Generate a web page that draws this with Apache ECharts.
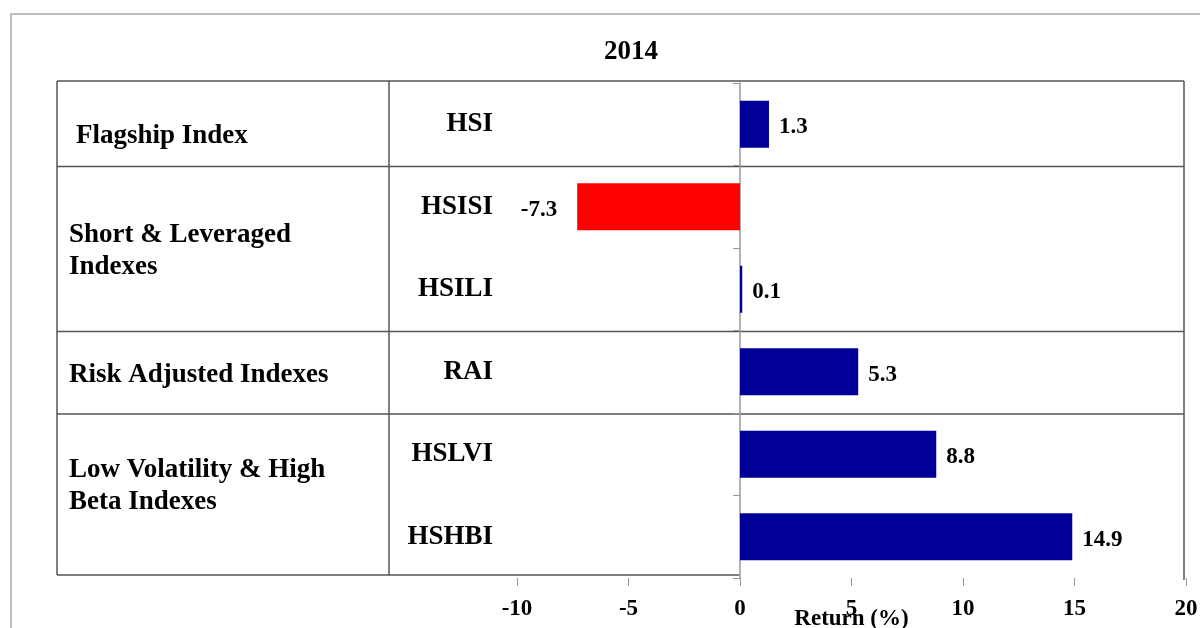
<!DOCTYPE html>
<html>
<head>
<meta charset="utf-8">
<script src="https://cdn.jsdelivr.net/npm/echarts@6/dist/echarts.min.js"></script>
<style>
  html, body { margin: 0; padding: 0; background: #fff; }
  #main { width: 1200px; height: 628px; }
</style>
</head>
<body>
<div id="main"></div>
<script>
// index names, one bar each (top to bottom)
var categories = ['HSI', 'HSISI', 'HSILI', 'RAI', 'HSLVI', 'HSHBI'];
// 2014 return (%)
var returns2014 = [1.3, -7.3, 0.1, 5.3, 8.8, 14.9];
// groups shown in the left column: first and last category index of each
var groupNames = ['Flagship Index', 'Short & Leveraged\nIndexes', 'Risk Adjusted Indexes', 'Low Volatility & High\nBeta Indexes'];
var groupFirst = [0, 1, 3, 4];
var groupLast = [0, 2, 3, 5];
// rows that get a dividing line above them
var dividerRows = [0, 1, 3, 4];

var xMin = -10, xMax = 20, xStep = 5;

var FONT = '"Liberation Serif", "Times New Roman", serif';
var chartDom = document.getElementById('main');
var myChart = echarts.init(chartDom);

var barData = returns2014.map(function (v) {
  var item = { value: v, itemStyle: { color: v < 0 ? '#ff0000' : '#000099' } };
  if (v < 0) {
    item.label = { position: 'left', distance: 20 };
  }
  return item;
});

var option = {
  backgroundColor: '#fff',
  animation: false,
  title: {
    text: '2014',
    left: 604,
    top: 39,
    padding: 0,
    textStyle: { fontFamily: FONT, fontWeight: 'bold', fontSize: 27, color: '#000' }
  },
  grid: { left: 517, right: 14, top: 83, bottom: 50, outerBoundsMode: 'none', containLabel: false },
  xAxis: {
    type: 'value',
    min: xMin,
    max: xMax,
    interval: xStep,
    name: 'Return (%)',
    nameLocation: 'middle',
    nameGap: 30,
    nameMoveOverlap: false,
    nameTextStyle: { fontFamily: FONT, fontWeight: 'bold', fontSize: 23, color: '#000' },
    axisLine: { lineStyle: { color: '#888', width: 1.5 } },
    axisTick: { show: true, length: 8, lineStyle: { color: '#999' } },
    axisLabel: { fontFamily: FONT, fontWeight: 'bold', fontSize: 23, color: '#000', margin: 20 },
    splitLine: { show: false }
  },
  yAxis: [
    {
      type: 'category',
      data: categories,
      inverse: true,
      position: 'left',
      axisLine: { show: false, onZero: false },
      axisTick: { show: false },
      axisLabel: { fontFamily: FONT, fontWeight: 'bold', fontSize: 27, color: '#000', margin: 24, padding: [10, 0, 0, 0] },
      splitLine: { show: false }
    },
    {
      // zero line with its small ticks
      type: 'category',
      data: categories,
      inverse: true,
      position: 'right',
      axisLine: { show: true, onZero: true, lineStyle: { color: '#999', width: 1.5 } },
      axisTick: { show: true, inside: true, length: 7, lineStyle: { color: '#999' } },
      axisLabel: { show: false },
      splitLine: { show: false }
    }
  ],
  series: [
    {
      type: 'bar',
      yAxisIndex: 0,
      barWidth: 47,
      data: barData,
      label: {
        show: true,
        position: 'right',
        distance: 10,
        offset: [0, 3],
        fontFamily: FONT,
        fontWeight: 'bold',
        fontSize: 23,
        color: '#000'
      }
    }
  ]
};
myChart.setOption(option);

// table lines and group titles, placed from the axes' own scales
function drawTable() {
  var x0 = myChart.convertToPixel({ xAxisIndex: 0 }, 0);
  var xRight = myChart.convertToPixel({ xAxisIndex: 0 }, xMax) - 2;
  var c0 = myChart.convertToPixel({ yAxisIndex: 0 }, categories[0]);
  var c1 = myChart.convertToPixel({ yAxisIndex: 0 }, categories[1]);
  var band = c1 - c0;
  var edge = function (k) { return c0 - band / 2 + k * band; };
  var tableLeft = 57, colDivider = 389;
  var nudge = [12, 3, 3, -9];
  var lineStyle = { stroke: '#555', lineWidth: 1.5 };
  var els = [];

  // outer frame
  els.push({ type: 'rect', shape: { x: 11, y: 14, width: 1260, height: 700 },
    style: { fill: null, stroke: '#aaa', lineWidth: 1.5 }, z: 0 });

  var top = edge(0) - 2;
  dividerRows.forEach(function (r) {
    var y = r === 0 ? top : edge(r) + 1;
    els.push({ type: 'line', shape: { x1: tableLeft, y1: y, x2: xRight, y2: y }, style: lineStyle });
  });
  var bottom = edge(categories.length) - 3;
  els.push({ type: 'line', shape: { x1: tableLeft, y1: bottom, x2: x0, y2: bottom }, style: lineStyle });
  [tableLeft, colDivider].forEach(function (x) {
    els.push({ type: 'line', shape: { x1: x, y1: top, x2: x, y2: bottom }, style: lineStyle });
  });
  els.push({ type: 'line', shape: { x1: xRight, y1: top, x2: xRight, y2: bottom + 5 }, style: lineStyle });

  groupNames.forEach(function (name, i) {
    var yMid = (edge(groupFirst[i]) + edge(groupLast[i] + 1)) / 2 + nudge[i];
    els.push({
      type: 'text',
      x: i === 0 ? 76 : 69,
      y: yMid,
      style: {
        text: name,
        font: 'bold 27px ' + FONT,
        fill: '#000',
        verticalAlign: 'middle',
        lineHeight: 32
      }
    });
  });

  myChart.setOption({ graphic: els });
}
drawTable();

window.onresize = function () {
  myChart.resize();
  drawTable();
};
</script>
</body>
</html>
